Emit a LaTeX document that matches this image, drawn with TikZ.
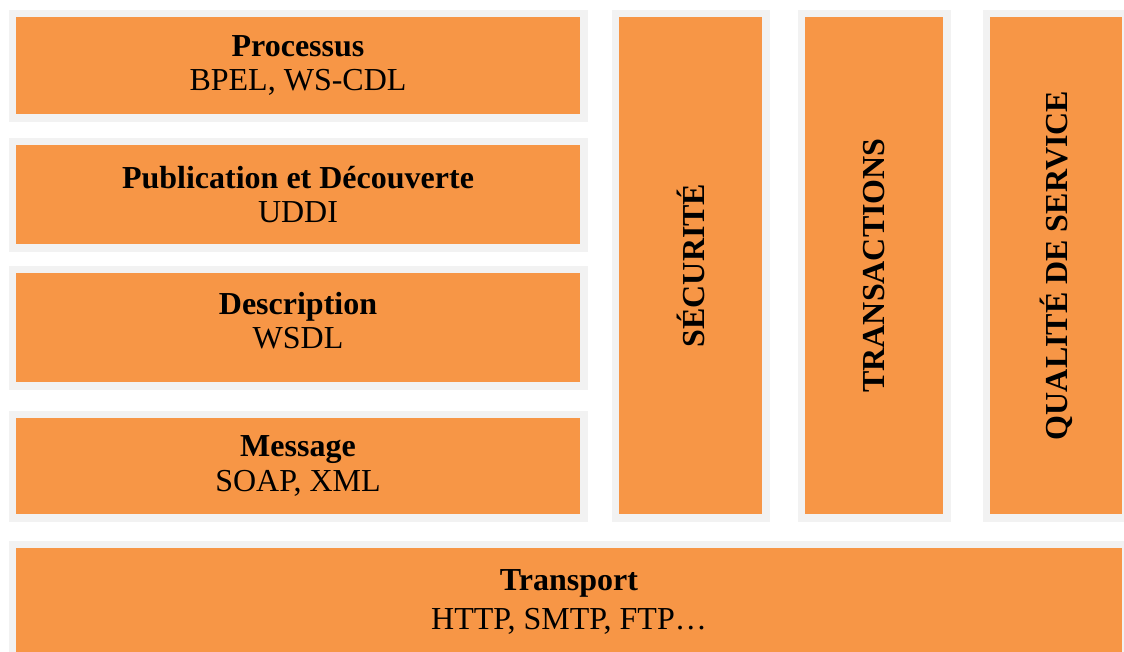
\documentclass[tikz,border=0pt]{standalone}
\usepackage{fontspec}
\setmainfont{Liberation Serif}
\definecolor{layerfill}{HTML}{F79646}
\definecolor{layerframe}{HTML}{F2F2F2}
\tikzset{
  layer/.style={rectangle, fill=layerfill, draw=layerframe, line width=7.5pt,
    inner sep=0pt},
  caption/.style={inner sep=0pt, align=center, text=black,
    font=\fontsize{32}{34.5}\selectfont},
  vcaption/.style={caption, rotate=90, font=\fontsize{32}{34.5}\selectfont\bfseries}
}
% \layerbox{name}{x1}{y1}{x2}{y2}{caption options}{text}:
% horizontal orange area (x1,y1)-(x2,y2) with its frame, caption centred on it
\newcommand{\layerbox}[7]{%
  \node[layer, minimum width={(#4-#2+7.5)*1pt}, minimum height={(#5-#3+7.5)*1pt}]
    (#1) at ({(#2+#4)/2},{(#3+#5)/2}) {};
  \node[caption, #6] (#1-text) at (#1.center) {#7};}
% \vlayerbox{name}{x1}{y1}{x2}{y2}{text}: upright column with text read bottom to top
\newcommand{\vlayerbox}[6]{%
  \node[layer, minimum width={(#4-#2+7.5)*1pt}, minimum height={(#5-#3+7.5)*1pt}]
    (#1) at ({(#2+#4)/2},{(#3+#5)/2}) {};
  \node[vcaption] (#1-text) at (#1.center) {#6};}
\begin{document}
\begin{tikzpicture}[x=1pt,y=-1pt]
  \useasboundingbox (0,0) rectangle (1124,651);
  % stacked protocol layers
  \layerbox{processus}{16}{17}{580}{114}{}{\textbf{Processus}\\BPEL, WS-CDL}
  \layerbox{publication}{16}{145}{580}{244}{}{\textbf{Publication et Découverte}\\UDDI}
  \layerbox{description}{16}{273}{580}{382}{yshift=7pt}{\textbf{Description}\\WSDL}
  \layerbox{message}{16}{418}{580}{514}{}{\textbf{Message}\\SOAP, XML}
  % cross-cutting concerns
  \vlayerbox{securite}{619}{17}{762}{514}{SÉCURITÉ}
  \vlayerbox{transactions}{805}{17}{943}{514}{TRANSACTIONS}
  \vlayerbox{qos}{990}{17}{1122}{514}{QUALITÉ DE SERVICE}
  % transport layer
  \layerbox{transport}{16}{548}{1122}{655}{font=\fontsize{32}{39}\selectfont}%
    {\textbf{Transport}\\HTTP, SMTP, FTP…}
\end{tikzpicture}
\end{document}
